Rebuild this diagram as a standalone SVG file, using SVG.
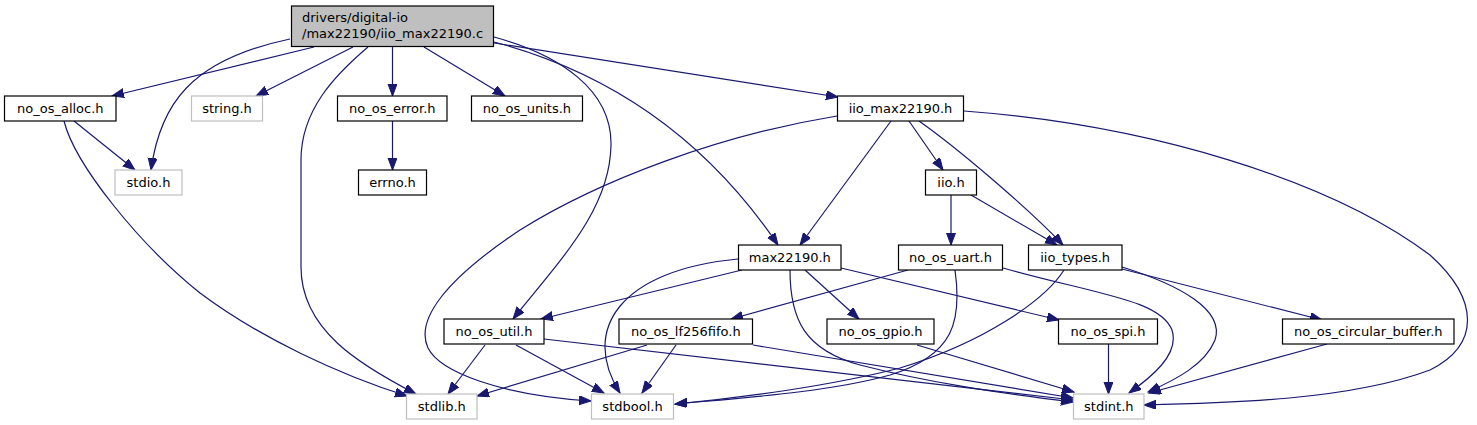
<svg xmlns="http://www.w3.org/2000/svg" width="1477" height="425" viewBox="0 0 1477 425">
<style>
.n rect{fill:#ffffff;stroke:#000000;stroke-width:1.2}
.g rect{fill:#ffffff;stroke:#bfbfbf;stroke-width:1.2}
.r rect{fill:#bfbfbf;stroke:#000000;stroke-width:1.2}
text{font-family:"DejaVu Sans","Liberation Sans",sans-serif;font-size:13px;fill:#000000}
.c{text-anchor:middle}
#edges path{fill:none;stroke:#191970;stroke-width:1.2;marker-end:url(#arr)}
</style>
<defs>
<marker id="arr" markerWidth="14" markerHeight="10" refX="12" refY="4.5" orient="auto" markerUnits="userSpaceOnUse">
<path d="M0,0 L12,4.5 L0,9 z" fill="#191970" stroke="#191970" stroke-width="1"/>
</marker>
</defs>
<rect width="1477" height="425" fill="#ffffff"/>
<g id="edges">
<path d="M314,47 L112,96"/>
<path d="M290,39 C190,60 160,105 151,170"/>
<path d="M353,47 L256,96"/>
<path d="M368,47 C335,75 301,110 301,160 L301,267 C301,330 360,365 416,394"/>
<path d="M392.5,47 L392.5,96"/>
<path d="M424,47 L505,96"/>
<path d="M494,37 C560,55 612,90 611,145 C610,210 560,260 513,319"/>
<path d="M494,42 C600,70 700,130 778,245"/>
<path d="M494,43 L838,97"/>
<path d="M74,121 L135,170"/>
<path d="M64,121 C75,165 140,245 200,293 C260,338 340,375 407,396"/>
<path d="M392.5,121 L392.5,170"/>
<path d="M837,116 C720,135 600,180 520,230 C445,280 415,320 428,348 C440,372 500,395 591,401"/>
<path d="M891,121 L800,245"/>
<path d="M909,121 L943,170"/>
<path d="M919,121 C960,150 1030,210 1063,245"/>
<path d="M964,111 C1150,125 1330,180 1430,255 C1480,300 1480,345 1430,370 C1350,400 1230,403 1144,405"/>
<path d="M951,195 L951,245"/>
<path d="M971,195 L1057,245"/>
<path d="M742,270 L541,319"/>
<path d="M738,259 C620,270 580,330 620,393"/>
<path d="M790,270 C790,320 805,350 860,365 C930,383 1000,393 1073,402"/>
<path d="M805,270 L859,319"/>
<path d="M841,268 L1059,320"/>
<path d="M908,270 L731,319"/>
<path d="M955,270 C962,320 955,355 890,375 C830,392 740,398 675,404"/>
<path d="M1003,268 C1100,295 1160,300 1172,330 C1180,355 1150,378 1129,393"/>
<path d="M1064,270 C1045,300 985,342 900,368 C830,386 740,398 675,404"/>
<path d="M1122,267 C1180,285 1225,310 1215,340 C1205,365 1175,380 1148,392"/>
<path d="M1122,269 L1322,320"/>
<path d="M485,345 L448,394"/>
<path d="M516,345 L604,393"/>
<path d="M544,339 L1073,400"/>
<path d="M647,345 L477,396"/>
<path d="M676,345 L642,393"/>
<path d="M753,345 L1073,398"/>
<path d="M917,345 L1074,392"/>
<path d="M1108.5,344 L1108.5,394"/>
<path d="M1327,344 L1149,393"/>
</g>
<g id="root" class="r"><rect x="291.5" y="6" width="202" height="40.5"/><text x="302" y="22">drivers/digital-io</text><text x="302" y="37.5">/max22190/iio_max22190.c</text></g>
<g id="no_os_alloc" class="n"><rect x="4.5" y="96" width="111.5" height="25"/><text class="c" x="60.3" y="113">no_os_alloc.h</text></g>
<g id="string" class="g"><rect x="191.5" y="96" width="71" height="25"/><text class="c" x="227" y="113">string.h</text></g>
<g id="no_os_error" class="n"><rect x="337.5" y="96" width="109.5" height="25"/><text class="c" x="392.3" y="113">no_os_error.h</text></g>
<g id="no_os_units" class="n"><rect x="471.5" y="96" width="111" height="25"/><text class="c" x="527" y="113">no_os_units.h</text></g>
<g id="iio_max22190_h" class="n"><rect x="837.5" y="96" width="126" height="25"/><text class="c" x="900.5" y="113">iio_max22190.h</text></g>
<g id="stdio" class="g"><rect x="115" y="170" width="67" height="25"/><text class="c" x="148.5" y="187">stdio.h</text></g>
<g id="errno" class="n"><rect x="358.5" y="170" width="68" height="25"/><text class="c" x="392.5" y="187">errno.h</text></g>
<g id="iio" class="n"><rect x="925.5" y="170" width="51" height="25"/><text class="c" x="951" y="187">iio.h</text></g>
<g id="max22190" class="n"><rect x="738.5" y="245" width="102.5" height="25"/><text class="c" x="789.8" y="262">max22190.h</text></g>
<g id="no_os_uart" class="n"><rect x="898.5" y="245" width="104" height="25"/><text class="c" x="950.5" y="262">no_os_uart.h</text></g>
<g id="iio_types" class="n"><rect x="1028.5" y="245" width="93.5" height="25"/><text class="c" x="1075.2" y="262">iio_types.h</text></g>
<g id="no_os_util" class="n"><rect x="444" y="319" width="100" height="25"/><text class="c" x="494" y="336">no_os_util.h</text></g>
<g id="no_os_lf256fifo" class="n"><rect x="619" y="319" width="133.5" height="25"/><text class="c" x="685.8" y="336">no_os_lf256fifo.h</text></g>
<g id="no_os_gpio" class="n"><rect x="827" y="319" width="107" height="25"/><text class="c" x="880.5" y="336">no_os_gpio.h</text></g>
<g id="no_os_spi" class="n"><rect x="1058.5" y="319" width="99" height="25"/><text class="c" x="1108" y="336">no_os_spi.h</text></g>
<g id="no_os_circular_buffer" class="n"><rect x="1282.5" y="319" width="171.5" height="25"/><text class="c" x="1368.3" y="336">no_os_circular_buffer.h</text></g>
<g id="stdlib" class="g"><rect x="406.5" y="394" width="70.5" height="25"/><text class="c" x="441.8" y="411">stdlib.h</text></g>
<g id="stdbool" class="g"><rect x="591.5" y="394" width="82" height="25"/><text class="c" x="632.5" y="411">stdbool.h</text></g>
<g id="stdint" class="g"><rect x="1073.5" y="394" width="70.5" height="25"/><text class="c" x="1108.8" y="411">stdint.h</text></g>
</svg>
